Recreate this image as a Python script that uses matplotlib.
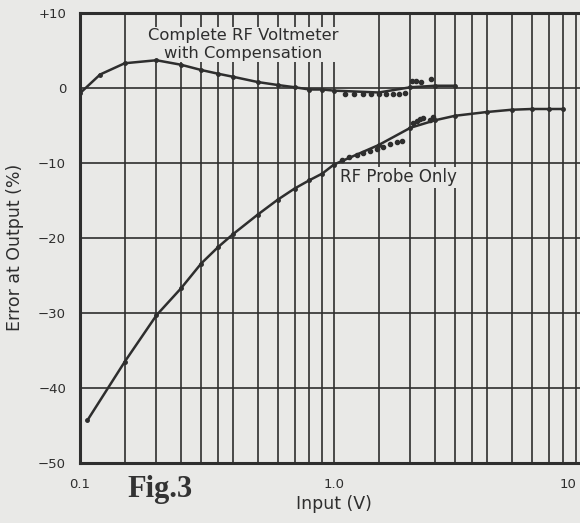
import numpy as np
import matplotlib
matplotlib.use('Agg')
import matplotlib.pyplot as plt
import matplotlib.transforms as mtransforms

# compensated voltmeter curve
comp_x = [0.1, 0.12, 0.15, 0.2, 0.25, 0.3, 0.35, 0.4, 0.5, 0.6, 0.7, 0.8, 0.9, 1.0, 1.5, 2.0, 2.5, 3.0]
comp_y = [-0.7, 1.8, 3.3, 3.7, 3.1, 2.4, 1.9, 1.5, 0.8, 0.4, 0.1, -0.2, -0.2, -0.35, -0.6, 0.1, 0.3, 0.3]
comp_dots_x = [1.1, 1.2, 1.3, 1.4, 1.5, 1.6, 1.7, 1.8, 1.9, 2.03, 2.1, 2.2, 2.4]
comp_dots_y = [-0.8, -0.8, -0.8, -0.8, -0.8, -0.8, -0.8, -0.8, -0.7, 0.9, 0.9, 0.8, 1.2]

# RF probe alone
probe_x = [0.107, 0.15, 0.2, 0.25, 0.3, 0.35, 0.4, 0.5, 0.6, 0.7, 0.8, 0.9, 1.0,
           1.5, 2.0, 2.5, 3.0, 4.0, 5.0, 6.0, 7.0, 8.0]
probe_y = [-44.3, -36.5, -30.3, -26.7, -23.4, -21.2, -19.5, -16.9, -14.9, -13.4, -12.3, -11.4, -10.2,
           -7.6, -5.3, -4.3, -3.7, -3.2, -2.9, -2.8, -2.8, -2.8]
probe_dots_x = [1.08, 1.15, 1.23, 1.3, 1.39, 1.48, 1.56, 1.66, 1.77, 1.85, 2.05, 2.12, 2.18, 2.25, 2.38, 2.45]
probe_dots_y = [-9.6, -9.2, -8.9, -8.7, -8.4, -8.1, -7.9, -7.5, -7.2, -7.1, -4.7, -4.4, -4.1, -4.0, -4.3, -3.9]

x_major = [0.1, 1.0, 10.0]
x_major_labels = ['0.1', '1.0', '10']
x_minor = [0.15, 0.2, 0.25, 0.3, 0.35, 0.4, 0.5, 0.6, 0.7, 0.8, 0.9,
           1.5, 2.0, 2.5, 3.0, 3.5, 4.0, 5.0, 6.0, 7.0, 8.0, 9.0]
y_ticks = [10, 0, -10, -20, -30, -40, -50]
y_labels = ['+10', '0', '\u221210', '\u221220', '\u221230', '\u221240', '\u221250']

ink = '#2e2e2e'
paper = '#e9e9e7'

fig = plt.figure(figsize=(5.8, 5.23), dpi=100, facecolor=paper)
# the plot runs past the right edge of the scan, so the axes do too
ax = fig.add_axes([80 / 580, 60 / 523, 508 / 580, 450 / 523], facecolor=paper)

ax.set_xscale('log')
ax.set_xlim(0.1, 10)
ax.set_ylim(-50, 10)

ax.set_xticks(x_major)
ax.set_xticklabels(x_major_labels)
ax.set_xticks(x_minor, minor=True)
ax.set_xticklabels([], minor=True)
ax.set_yticks(y_ticks)
ax.set_yticklabels(y_labels)

ax.grid(True, which='both', axis='x', color=ink, linewidth=1.2)
ax.grid(True, which='major', axis='y', color=ink, linewidth=1.2)
ax.tick_params(which='both', length=0)
ax.tick_params(axis='y', pad=10, labelsize=9.5, colors=ink)
ax.tick_params(axis='x', pad=11, labelsize=9.5, colors=ink)
for s in ax.spines.values():
    s.set_linewidth(2.2)
    s.set_color(ink)

# pull the "10" label back inside the picture
last = ax.get_xticklabels()[-1]
last.set_transform(last.get_transform() + mtransforms.ScaledTranslation(-0.2, 0, fig.dpi_scale_trans))

ax.plot(comp_x, comp_y, color=ink, linewidth=1.8, marker='o', markersize=2.5)
ax.plot(comp_dots_x, comp_dots_y, linestyle='none', color=ink, marker='o', markersize=3)
ax.plot(probe_x, probe_y, color=ink, linewidth=1.8, marker='o', markersize=2.5)
ax.plot(probe_dots_x, probe_dots_y, linestyle='none', color=ink, marker='o', markersize=3)

# labels sit over the grid but under the curves
ax.text(0.44, 5.8, 'Complete RF Voltmeter\nwith Compensation', ha='center', va='center',
        fontsize=11.8, color=ink, linespacing=1.2, zorder=1.8,
        bbox=dict(facecolor=paper, edgecolor='none', pad=1))
ax.text(1.8, -11.9, 'RF Probe Only', ha='center', va='center', fontsize=12, color=ink,
        zorder=1.8, bbox=dict(facecolor=paper, edgecolor='none', pad=1))

ax.set_xlabel('Input (V)', fontsize=12.5, color=ink, labelpad=3)
ax.set_ylabel('Error at Output (%)', fontsize=12.5, color=ink)
ax.yaxis.set_label_coords(-0.11, 0.48)

fig.text(160 / 580, 1 - 489 / 523, 'Fig.3', family='Liberation Serif', fontweight='bold',
         fontsize=22, color='#333333', ha='center', va='center')

fig.savefig('out.png', dpi=100, facecolor=paper)
